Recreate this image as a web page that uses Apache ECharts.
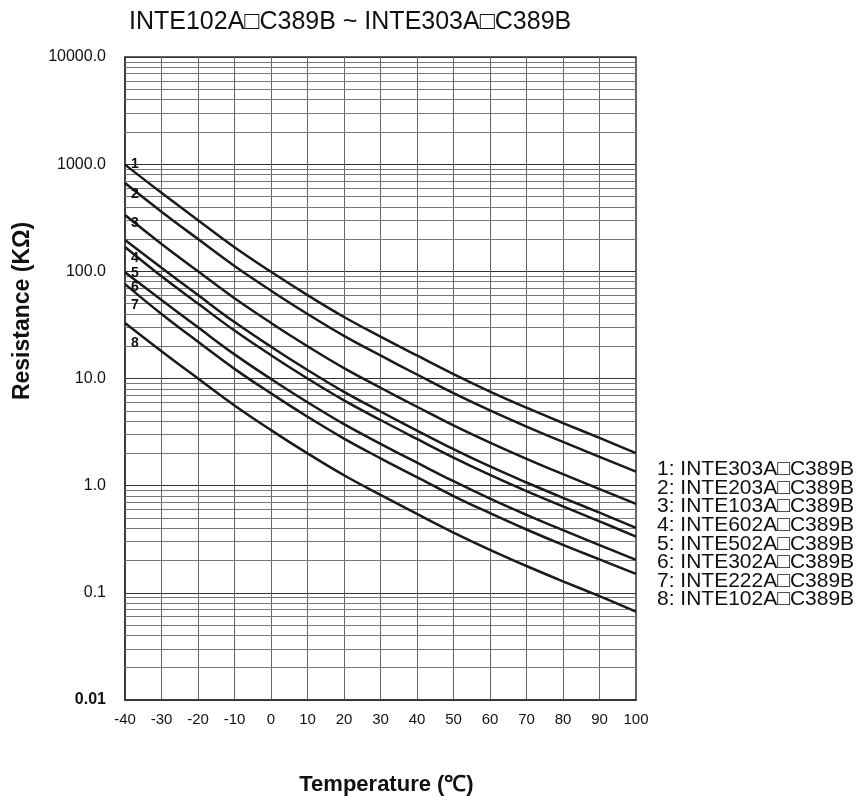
<!DOCTYPE html>
<html>
<head>
<meta charset="utf-8">
<script src="https://cdn.jsdelivr.net/npm/echarts@6/dist/echarts.min.js"></script>
<style>
  html, body { margin: 0; padding: 0; background: #fff; }
  #chart { width: 866px; height: 796px; }
</style>
</head>
<body>
<div id="chart"></div>
<script>
// temperatures (°C) read along the x axis
const temps = [-40, -30, -20, -10, 0, 10, 20, 30, 40, 50, 60, 70, 80, 90, 100];

// resistance in kΩ
const curve1 = [990, 540, 300, 168, 99, 60, 37.5, 24.6, 16.4, 11.0, 7.56, 5.34, 3.84, 2.79, 2.01];
const curve2 = [667, 360, 200, 112, 66, 40, 25, 16.4, 10.9, 7.3, 5.04, 3.56, 2.56, 1.86, 1.35];
const curve3 = [335, 180, 100, 56, 33, 20, 12.5, 8.2, 5.45, 3.65, 2.52, 1.78, 1.28, 0.93, 0.675];
const curve4 = [196, 108, 60, 33.6, 19.8, 12, 7.5, 4.92, 3.27, 2.19, 1.51, 1.07, 0.77, 0.56, 0.403];
const curve5 = [169, 90, 50, 28, 16.5, 10, 6.25, 4.1, 2.73, 1.83, 1.26, 0.89, 0.64, 0.465, 0.334];
const curve6 = [98, 54, 30, 16.8, 9.9, 6.0, 3.75, 2.46, 1.64, 1.10, 0.756, 0.534, 0.384, 0.279, 0.203];
const curve7 = [76, 40, 22, 12.3, 7.26, 4.4, 2.75, 1.8, 1.2, 0.80, 0.554, 0.39, 0.28, 0.205, 0.150];
const curve8 = [33, 18, 10, 5.6, 3.3, 2.0, 1.25, 0.82, 0.545, 0.365, 0.252, 0.178, 0.128, 0.093, 0.0668];

const curves = [curve1, curve2, curve3, curve4, curve5, curve6, curve7, curve8];
const names = [
  '1: INTE303A□C389B', '2: INTE203A□C389B', '3: INTE103A□C389B', '4: INTE602A□C389B',
  '5: INTE502A□C389B', '6: INTE302A□C389B', '7: INTE222A□C389B', '8: INTE102A□C389B'
];
const curveTags = ['1', '2', '3', '4', '5', '6', '7', '8'];
// where the small curve numbers sit (y px)
const tagY = [164, 194, 223, 258, 273, 287, 305, 343];

// minor log grid values (2..9 per decade)
const minorVals = [];
[0.01, 0.1, 1, 10, 100, 1000].forEach(d => {
  for (let k = 2; k <= 9; k++) minorVals.push(+(d * k).toPrecision(3));
});

const font = 'Liberation Sans, Arial, Helvetica, sans-serif';

const series = curves.map((c, i) => ({
  name: names[i],
  type: 'line',
  data: temps.map((t, j) => [t, c[j]]),
  showSymbol: false,
  smooth: 0.4,
  z: 5,
  lineStyle: { color: '#1a1a1a', width: 2.5 },
  itemStyle: { color: '#1a1a1a' }
}));

// dummy series carrying the minor horizontal grid lines
series.push({
  type: 'line',
  data: [],
  z: 1,
  silent: true,
  markLine: {
    silent: true,
    symbol: 'none',
    animation: false,
    label: { show: false },
    lineStyle: { color: '#777', width: 1, type: 'solid' },
    data: minorVals.map(v => ({ yAxis: v }))
  }
});

const chart = echarts.init(document.getElementById('chart'));
chart.setOption({
  animation: false,
  backgroundColor: '#fff',
  title: {
    text: 'INTE102A□C389B ~ INTE303A□C389B',
    left: 124,
    top: 5,
    textStyle: { fontFamily: font, fontSize: 25, fontWeight: 'normal', color: '#111' }
  },
  grid: {
    left: 125, right: 230, top: 57, bottom: 96,
    outerBoundsMode: 'none',
    show: true, borderColor: '#333', borderWidth: 1.5
  },
  legend: {
    data: names,
    orient: 'vertical',
    left: 647,
    top: 454,
    itemWidth: 0,
    itemHeight: 18.6,
    itemGap: -2.4,
    icon: 'rect',
    selectedMode: false,
    textStyle: { fontFamily: font, fontSize: 21, color: '#111' }
  },
  xAxis: {
    type: 'value',
    min: -40, max: 100, interval: 10,
    name: 'Temperature (℃)',
    nameLocation: 'middle',
    nameGap: 74,
    nameTextStyle: { fontFamily: font, fontSize: 22, fontWeight: 'bold', color: '#111', padding: [0, 0, 0, 12] },
    axisLine: { show: true, onZero: false, lineStyle: { color: '#333', width: 1.5 } },
    axisTick: { show: false },
    axisLabel: { fontFamily: font, fontSize: 15, color: '#111', margin: 12 },
    splitLine: { show: true, lineStyle: { color: '#666', width: 1 } }
  },
  yAxis: {
    type: 'log',
    logBase: 10,
    min: 0.01, max: 10000,
    splitNumber: 6,
    axisLine: { show: true, onZero: false, lineStyle: { color: '#333', width: 1.5 } },
    axisTick: { show: false },
    axisLabel: {
      fontFamily: font, fontSize: 16, color: '#111', margin: 19,
      formatter: v => v >= 0.1 ? v.toFixed(1) : '{b|0.01}',
      rich: { b: { fontFamily: font, fontSize: 16, fontWeight: 'bold', color: '#111' } }
    },
    splitLine: { show: true, lineStyle: { color: '#333', width: 1 } }
  },
  graphic: [
    {
      type: 'text',
      x: 23, y: 311,
      rotation: Math.PI / 2,
      style: {
        text: 'Resistance (KΩ)',
        font: 'bold 23px ' + font,
        fill: '#111',
        align: 'center',
        verticalAlign: 'middle'
      }
    }
  ].concat(curveTags.map((t, i) => ({
    type: 'text',
    x: 131, y: tagY[i],
    z: 10,
    style: {
      text: t,
      font: 'bold 14px ' + font,
      fill: '#111',
      align: 'left',
      verticalAlign: 'middle'
    }
  }))),
  series: series
});
</script>
</body>
</html>
